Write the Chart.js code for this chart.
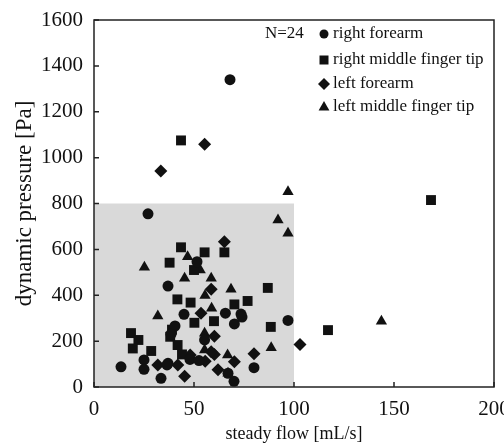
<!DOCTYPE html>
<html lang="en">
<head>
  <meta charset="UTF-8">
  <title>Dynamic pressure vs steady flow</title>
  <script src="https://cdn.jsdelivr.net/npm/chart.js"></script>
  <style>
    html, body { margin: 0; padding: 0; background: #fff; }
  </style>
</head>
<body>
  <canvas id="grafico" width="504" height="445"></canvas>

  <script>
    const seriesNames = ['right forearm', 'right middle finger tip', 'left forearm', 'left middle finger tip'];
    const sampleLabel = 'N=24';

    const xTicks = [0, 50, 100, 150, 200];
    const yTicks = [0, 200, 400, 600, 800, 1000, 1200, 1400, 1600];

    // shaded region (flow 0-100, pressure 0-800)
    const shadeFlow = [0, 100];
    const shadePressure = [0, 800];

    const rightForearmFlow     = [68, 27, 37, 51.5, 13.5, 25, 25, 33.5, 37, 45, 40.5, 65.7, 73.5, 70.2, 70, 80, 97, 48, 52.5, 55.3, 38.5, 36.5, 67, 74];
    const rightForearmPressure = [1340, 755, 440, 546, 88, 118, 77, 38, 103, 317, 266, 322, 318, 275, 25, 84, 290, 120, 115, 205, 230, 96, 60, 305];

    const rightTipFlow     = [43.5, 168.5, 117, 43.5, 55.3, 65.2, 37.8, 50, 18.5, 22.2, 19.4, 28.6, 41.7, 48.3, 70.2, 76.8, 86.9, 88.4, 60, 50.2, 38.1, 41.8, 44, 39];
    const rightTipPressure = [1075, 815, 248, 609, 587, 587, 542, 510, 235, 205, 168, 157, 382, 368, 360, 375, 432, 262, 287, 280, 219, 183, 142, 250];

    const leftForearmFlow     = [33.4, 55.3, 103, 65.2, 58.6, 53.5, 60.2, 60.2, 45.3, 31.9, 41.9, 55.6, 62, 70.2, 80, 48.1, 58.6];
    const leftForearmPressure = [942, 1058, 185, 633, 426, 322, 221, 142, 47, 96, 96, 112, 75, 110, 145, 139, 154];

    const leftTipFlow     = [97, 92, 97, 25.2, 46.8, 53.1, 45.3, 58.6, 68.5, 55.5, 58.8, 31.9, 55.3, 55.3, 66.8, 88.6, 143.7, 67];
    const leftTipPressure = [851, 728, 670, 522, 568, 510, 474, 474, 426, 399, 343, 309, 234, 161, 139, 171, 287, 60];

    const pts = (xs, ys) => xs.map((x, i) => ({ x: x, y: ys[i] }));

    const serif = 'Liberation Serif, Times New Roman, serif';
    const ink = '#111';

    function marker(ctx, style, x, y, r) {
      ctx.beginPath();
      if (style === 'circle') {
        ctx.arc(x, y, r, 0, Math.PI * 2);
      } else if (style === 'rect') {
        ctx.rect(x - r, y - r, 2 * r, 2 * r);
      } else if (style === 'rectRot') {
        ctx.moveTo(x - r, y); ctx.lineTo(x, y - r); ctx.lineTo(x + r, y); ctx.lineTo(x, y + r);
        ctx.closePath();
      } else {
        ctx.moveTo(x, y - r); ctx.lineTo(x + r * 0.9, y + r * 0.6); ctx.lineTo(x - r * 0.9, y + r * 0.6);
        ctx.closePath();
      }
      ctx.fill();
    }

    const shade = {
      id: 'shade',
      beforeDatasetsDraw(chart) {
        const { ctx, scales: { x, y } } = chart;
        const x0 = x.getPixelForValue(shadeFlow[0]), x1 = x.getPixelForValue(shadeFlow[1]);
        const y0 = y.getPixelForValue(shadePressure[0]), y1 = y.getPixelForValue(shadePressure[1]);
        ctx.save();
        ctx.fillStyle = '#d9d9d9';
        ctx.fillRect(x0, y1, x1 - x0, y0 - y1);
        ctx.restore();
      }
    };

    // box round the plot, ticks pointing inward, and the legend inside
    const frame = {
      id: 'frame',
      afterDraw(chart) {
        const { ctx, chartArea: a, scales: { x, y } } = chart;
        ctx.save();
        ctx.strokeStyle = '#222';
        ctx.lineWidth = 1.5;
        ctx.strokeRect(a.left, a.top, a.right - a.left, a.bottom - a.top);
        ctx.beginPath();
        xTicks.forEach(v => {
          const px = x.getPixelForValue(v);
          ctx.moveTo(px, a.bottom); ctx.lineTo(px, a.bottom - 5);
        });
        yTicks.forEach(v => {
          const py = y.getPixelForValue(v);
          ctx.moveTo(a.left, py); ctx.lineTo(a.left + 5, py);
        });
        ctx.stroke();

        ctx.fillStyle = ink;
        ctx.font = '17px ' + serif;
        ctx.textBaseline = 'middle';
        ctx.fillText(sampleLabel, 265, 34);
        const styles = ['circle', 'rect', 'rectRot', 'triangle'];
        const sizes = [4.5, 4.5, 6, 6];
        const rows = [34, 60, 84, 107];
        seriesNames.forEach((name, i) => {
          marker(ctx, styles[i], 324, rows[i], sizes[i]);
          ctx.fillText(name, 333, rows[i]);
        });
        ctx.restore();
      }
    };

    const dot = { backgroundColor: ink, borderWidth: 0, hoverRadius: 6 };

    new Chart(document.getElementById('grafico'), {
      type: 'scatter',
      data: {
        datasets: [
          { label: seriesNames[0], data: pts(rightForearmFlow, rightForearmPressure), pointStyle: 'circle', pointRadius: 5.5, ...dot },
          { label: seriesNames[1], data: pts(rightTipFlow, rightTipPressure), pointStyle: 'rect', pointRadius: 7, ...dot },
          { label: seriesNames[2], data: pts(leftForearmFlow, leftForearmPressure), pointStyle: 'rectRot', pointRadius: 6.5, ...dot },
          { label: seriesNames[3], data: pts(leftTipFlow, leftTipPressure), pointStyle: 'triangle', pointRadius: 6.5, ...dot }
        ]
      },
      options: {
        responsive: false,
        animation: false,
        layout: { padding: { left: 4, right: 10, top: 20, bottom: 0 } },
        plugins: {
          legend: { display: false },
          tooltip: { enabled: false }
        },
        scales: {
          x: {
            min: 0, max: 200,
            afterBuildTicks: s => { s.ticks = xTicks.map(v => ({ value: v })); },
            afterFit: s => { s.height = 58; s.paddingLeft = 0; s.paddingRight = 0; },
            grid: { display: false, drawTicks: false },
            border: { display: false },
            ticks: { color: ink, padding: 10, maxRotation: 0, callback: v => String(v), font: { family: serif, size: 21 } },
            title: { display: true, text: 'steady flow [mL/s]', color: ink, padding: 0, font: { family: serif, size: 18 } }
          },
          y: {
            min: 0, max: 1600,
            afterBuildTicks: s => { s.ticks = yTicks.map(v => ({ value: v })); },
            afterFit: s => { s.width = 90; s.paddingTop = 0; s.paddingBottom = 0; },
            grid: { display: false, drawTicks: false },
            border: { display: false },
            ticks: { color: ink, padding: 11, callback: v => String(v), font: { family: serif, size: 21 } },
            title: { display: true, text: 'dynamic pressure [Pa]', color: ink, padding: { top: 7, bottom: 0 }, font: { family: serif, size: 23 } }
          }
        }
      },
      plugins: [shade, frame]
    });
  </script>
</body>
</html>
